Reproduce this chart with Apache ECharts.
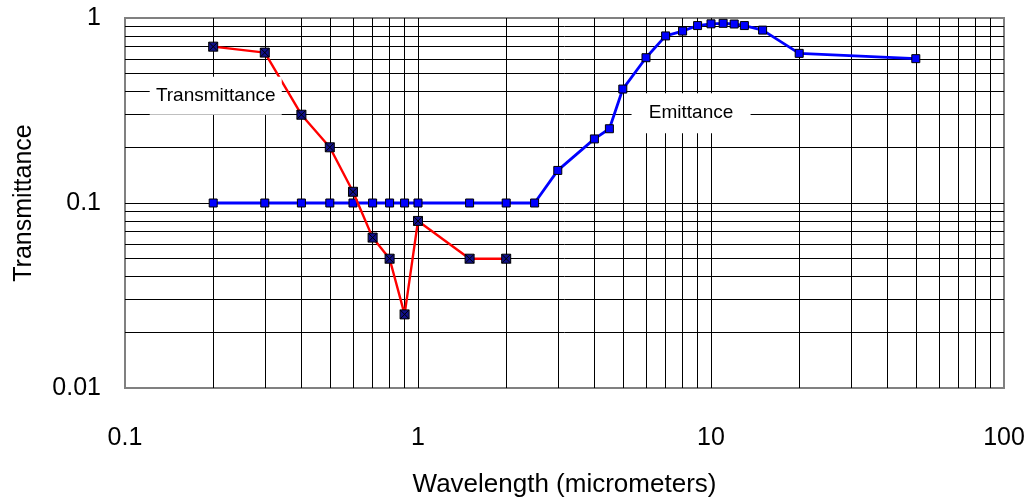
<!DOCTYPE html>
<html>
<head>
<meta charset="utf-8">
<script src="https://cdn.jsdelivr.net/npm/echarts@6/dist/echarts.min.js"></script>
<style>
  html, body { margin: 0; padding: 0; background: #fff; }
  #chart { width: 1033px; height: 504px; }
</style>
</head>
<body>
<div id="chart"></div>
<script>
// data
var wavelengthT = [0.2, 0.3, 0.4, 0.5, 0.6, 0.7, 0.8, 0.9, 1, 1.5, 2];
var transmittance = [0.7, 0.65, 0.3, 0.2, 0.115, 0.065, 0.05, 0.025, 0.08, 0.05, 0.05];

var wavelengthE = [0.2, 0.3, 0.4, 0.5, 0.6, 0.7, 0.8, 0.9, 1, 1.5, 2, 2.5, 3, 4, 4.5, 5, 6, 7, 8, 9, 10, 11, 12, 13, 15, 20, 50];
var emittance = [0.1, 0.1, 0.1, 0.1, 0.1, 0.1, 0.1, 0.1, 0.1, 0.1, 0.1, 0.1, 0.15, 0.222, 0.252, 0.413, 0.61, 0.8, 0.85, 0.91, 0.93, 0.936, 0.928, 0.91, 0.86, 0.644, 0.603];

var xTickLabels = ['0.1', '1', '10', '100'];
var yTickLabels = ['0.01', '0.1', '1'];

// log grid lines
var xGrid = [0.2, 0.3, 0.4, 0.5, 0.6, 0.7, 0.8, 0.9, 1, 2, 3, 4, 5, 6, 7, 8, 9, 10, 20, 30, 40, 50, 60, 70, 80, 90];
var yGrid = [0.02, 0.03, 0.04, 0.05, 0.06, 0.07, 0.08, 0.09, 0.1, 0.2, 0.3, 0.4, 0.5, 0.6, 0.7, 0.8, 0.9];

function pairs(xs, ys) {
  return xs.map(function (x, i) { return [x, ys[i]]; });
}

var font = '"Liberation Sans", Arial, sans-serif';
var chart = echarts.init(document.getElementById('chart'), null, { renderer: 'canvas' });

var gridLines = [];
xGrid.forEach(function (v) { gridLines.push({ xAxis: v }); });
yGrid.forEach(function (v) { gridLines.push({ yAxis: v }); });

var option = {
  animation: false,
  backgroundColor: '#fff',
  grid: {
    left: 125, right: 29, top: 18, bottom: 116,
    show: true, borderColor: '#808080', borderWidth: 2, backgroundColor: 'transparent'
  },
  xAxis: {
    type: 'log', logBase: 10, min: 0.1, max: 100,
    name: 'Wavelength (micrometers)', nameLocation: 'middle', nameGap: 84,
    nameTextStyle: { fontFamily: font, fontSize: 26, color: '#000' },
    axisLine: { show: false },
    axisTick: { show: false },
    splitLine: { show: false },
    axisLabel: {
      margin: 38, fontFamily: font, fontSize: 25, color: '#000',
      formatter: function (v) {
        var i = Math.round(Math.log10(v)) + 1;
        return xTickLabels[i] || '';
      }
    }
  },
  yAxis: {
    type: 'log', logBase: 10, min: 0.01, max: 1,
    name: 'Transmittance', nameLocation: 'middle', nameGap: 88,
    nameTextStyle: { fontFamily: font, fontSize: 25, color: '#000' },
    axisLine: { show: false },
    axisTick: { show: false },
    splitLine: { show: false },
    axisLabel: {
      margin: 24, fontFamily: font, fontSize: 25, color: '#000',
      formatter: function (v) {
        var i = Math.round(Math.log10(v)) + 2;
        return yTickLabels[i] || '';
      }
    }
  },
  series: [
    {
      name: 'grid',
      type: 'line',
      data: [],
      z: 0,
      silent: true,
      markLine: {
        z: 0,
        silent: true,
        symbol: ['none', 'none'],
        label: { show: false },
        lineStyle: { color: '#000', width: 1, type: 'solid' },
        emphasis: { disabled: true },
        data: gridLines
      }
    },
    {
      name: 'Emittance',
      type: 'line',
      z: 3,
      data: pairs(wavelengthE, emittance),
      symbol: 'rect',
      symbolSize: 8,
      showAllSymbol: true,
      lineStyle: { color: '#0000FF', width: 2.8 },
      itemStyle: { color: '#0000FF', borderColor: '#000', borderWidth: 1 }
    },
    {
      name: 'Transmittance',
      type: 'line',
      z: 4,
      data: pairs(wavelengthT, transmittance),
      symbol: 'path://M0,0L10,0L10,10L0,10Z M0,0L10,10 M10,0L0,10',
      symbolSize: 9,
      showAllSymbol: true,
      lineStyle: { color: '#FF0000', width: 2.4 },
      itemStyle: { color: '#10108a', borderColor: '#000', borderWidth: 1 }
    },
    {
      name: 'labels',
      type: 'line',
      data: [],
      z: 10,
      silent: true,
      markPoint: {
        z: 10,
        silent: true,
        symbol: 'rect',
        itemStyle: { color: '#fff' },
        label: {
          show: true, position: 'inside', color: '#000',
          fontFamily: font, fontSize: 19
        },
        data: [
          { coord: [0.204, 0.38], symbolSize: [132, 38], label: { formatter: 'Transmittance' } },
          { coord: [8.55, 0.306], symbolSize: [119, 40], label: { formatter: 'Emittance' } }
        ]
      }
    }
  ]
};

chart.setOption(option);
</script>
</body>
</html>
